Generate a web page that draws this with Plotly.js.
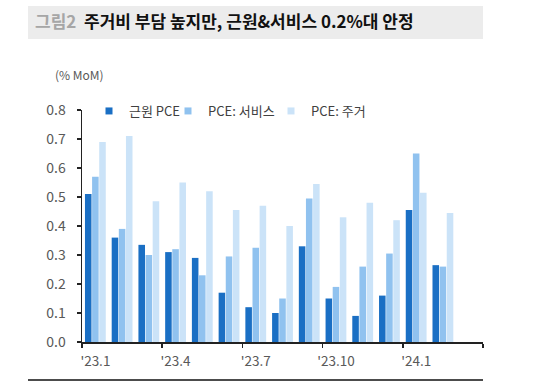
<!DOCTYPE html>
<html>
<head>
<meta charset="utf-8">
<script src="https://cdn.plot.ly/plotly-3.0.1.min.js"></script>
<style>html,body{margin:0;padding:0;background:#fff;}#chart{width:534px;height:382px;}</style>
</head>
<body>
<div id="chart"></div>
<script>
// Months: '23.1 .. '24.3 (last two empty)
var months = ["'23.1","'23.2","'23.3","'23.4","'23.5","'23.6","'23.7","'23.8","'23.9","'23.10","'23.11","'23.12","'24.1","'24.2","'24.3"];
var tickLabels = ["'23.1","'23.4","'23.7","'23.10","'24.1"];
var seriesNames = ["근원 PCE", "PCE: 서비스", "PCE: 주거"];
var corePCE    = [0.51, 0.36, 0.335, 0.31, 0.29, 0.17, 0.12, 0.10, 0.33, 0.15, 0.09, 0.16, 0.455, 0.265];
var servicesPCE= [0.57, 0.39, 0.30, 0.32, 0.23, 0.295, 0.325, 0.15, 0.495, 0.19, 0.26, 0.305, 0.65, 0.26];
var housingPCE = [0.69, 0.71, 0.485, 0.55, 0.52, 0.455, 0.47, 0.40, 0.545, 0.43, 0.48, 0.42, 0.515, 0.445];
var colors = ["#1a6fc4", "#90c2ef", "#cbe3f8"];

var FONT = "'Noto Sans CJK KR', 'Noto Sans', sans-serif";
var idx = months.map(function(m,i){return i;});
var allSeries = [corePCE, servicesPCE, housingPCE];
var legendIds = ["legend", "legend2", "legend3"];

var traces = [];
allSeries.forEach(function(vals, k){
  traces.push({
    type: "bar",
    x: idx.slice(0, vals.length),
    y: vals,
    name: seriesNames[k],
    marker: {color: colors[k]},
    showlegend: false,
    hoverinfo: "y"
  });
});
allSeries.forEach(function(vals, k){
  traces.push({
    type: "scatter", mode: "markers",
    x: [null], y: [null],
    name: seriesNames[k],
    marker: {symbol: "square", size: 7, color: colors[k]},
    legend: legendIds[k],
    showlegend: true
  });
});

var px2x = function(p){ return (p - 82) / 401; };
var px2y = function(p){ return (342 - p) / 232; };

function legendAt(pxLeft){
  return {
    x: px2x(pxLeft), xanchor: "left",
    y: px2y(111), yanchor: "middle",
    orientation: "h",
    bgcolor: "rgba(0,0,0,0)",
    font: {family: FONT, size: 13, color: "#404040"},
    itemwidth: 30
  };
}

var layout = {
  width: 534, height: 382,
  margin: {l: 82, r: 51, t: 110, b: 40},
  paper_bgcolor: "#fff", plot_bgcolor: "#fff",
  font: {family: FONT, color: "#595959"},
  barmode: "group",
  bargap: 0.2,
  bargroupgap: 0.08,
  showlegend: true,
  legend: legendAt(89),
  legend2: legendAt(168),
  legend3: legendAt(271),
  title: {
    text: "<b><span style='color:#a6a6a6'>그림2</span>  주거비 부담 높지만, 근원&amp;서비스 0.2%대 안정</b>",
    font: {family: FONT, size: 17, color: "#111"},
    xref: "container", x: 35/534, xanchor: "left",
    yref: "container", y: (382-22)/382, yanchor: "middle"
  },
  xaxis: {
    range: [-0.5, 14.5],
    tickmode: "array",
    tickvals: tickLabels.map(function(t){ return months.indexOf(t); }),
    ticktext: tickLabels,
    ticks: "",
    ticklabelstandoff: 6,
    tickfont: {family: FONT, size: 13.5, color: "#595959"},
    showline: true, linecolor: "#222", linewidth: 1.5,
    showgrid: false, zeroline: false, fixedrange: true,
    minor: {ticks: "outside", ticklen: 4, tickwidth: 1.5, tickcolor: "#222", tick0: -0.5, dtick: 3, showgrid: false}
  },
  yaxis: {
    range: [0, 0.8],
    dtick: 0.1, tick0: 0,
    tickformat: ".1f",
    ticks: "outside", ticklen: 4, tickwidth: 1.5, tickcolor: "#222",
    ticklabelstandoff: 8,
    tickfont: {family: FONT, size: 14, color: "#595959"},
    showline: true, linecolor: "#222", linewidth: 1.5,
    showgrid: false, zeroline: false, fixedrange: true
  },
  shapes: [
    {type: "rect", xref: "paper", yref: "paper", x0: px2x(28), x1: px2x(483), y0: px2y(39), y1: px2y(6),
     fillcolor: "#ececec", line: {width: 0}, layer: "below"},
    {type: "line", xref: "paper", yref: "paper", x0: px2x(28), x1: px2x(483), y0: px2y(380), y1: px2y(380),
     line: {color: "#111", width: 1.5}}
  ],
  annotations: [
    {text: "(% MoM)", xref: "paper", yref: "paper", x: px2x(53), y: px2y(75), xanchor: "left", yanchor: "middle",
     showarrow: false, font: {family: FONT, size: 12, color: "#595959"}}
  ]
};

Plotly.newPlot("chart", traces, layout, {displayModeBar: false, staticPlot: true});
</script>
</body>
</html>
